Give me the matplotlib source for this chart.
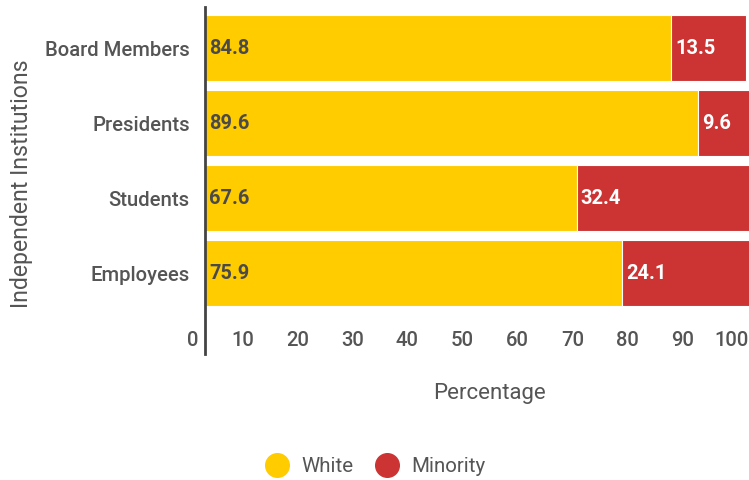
import matplotlib
matplotlib.use("Agg")
import matplotlib.pyplot as plt
from matplotlib.lines import Line2D
import matplotlib.transforms as mtransforms

categories = ["Board Members", "Presidents", "Students", "Employees"]
white = [84.8, 89.6, 67.6, 75.9]
minority = [13.5, 9.6, 32.4, 24.1]
xticks = [0, 10, 20, 30, 40, 50, 60, 70, 80, 90, 100]
series_names = ["White", "Minority"]

YELLOW = "#FFCC00"
RED = "#CC3333"
TEXT = "#555555"
DARK = "#4a4a4a"

plt.rcParams['font.family'] = ['Roboto', 'DejaVu Sans']

W, H = 749, 480
fig = plt.figure(figsize=(W / 100, H / 100), dpi=100)
ax = fig.add_axes([205 / W, (H - 354) / H, 550 / W, (354 - 7) / H])

y = list(range(len(categories)))
ax.barh(y, white, height=0.89, color=YELLOW, edgecolor="white", linewidth=0.8)
ax.barh(y, minority, left=white, height=0.89, color=RED, edgecolor="white", linewidth=0.8)

ax.set_xlim(0, 100)
ax.set_ylim(4.08, -0.547)

for sp in ["top", "right", "bottom"]:
    ax.spines[sp].set_visible(False)
ax.spines["left"].set_color("#444444")
ax.spines["left"].set_linewidth(2)

ax.set_yticks(y)
ax.set_yticklabels(categories, fontsize=14.6, color=TEXT, fontweight="medium")
ax.tick_params(axis="y", length=0, pad=11)
ax.set_xticks([])

# value labels
off = mtransforms.offset_copy(ax.transData, fig=fig, x=4, y=0, units="dots")
for i in y:
    ax.text(0, i, f"{white[i]}", transform=off, ha="left", va="center",
            fontsize=14.4, fontweight="bold", color=DARK)
    ax.text(white[i], i, f"{minority[i]}", transform=off, ha="left", va="center",
            fontsize=14.4, fontweight="bold", color="white")

# x tick labels (right aligned, slightly left of tick)
blend = mtransforms.blended_transform_factory(ax.transData, ax.transAxes)
toff = mtransforms.offset_copy(blend, fig=fig, x=-6, y=0, units="dots")
for t in xticks:
    ax.text(t, (340 - 354) / (7 - 354), str(t), transform=toff, ha="right", va="center",
            fontsize=14.6, fontweight="medium", color=TEXT, clip_on=False)

fig.text(490 / W, 1 - 393 / H, "Percentage", ha="center", va="center",
         fontsize=16, color=TEXT)
fig.text(22 / W, 1 - 184 / H, "Independent Institutions", ha="center", va="center",
         rotation=90, fontsize=16.6, color=TEXT)

handles = [Line2D([], [], marker="o", linestyle="none", markersize=17,
                  markerfacecolor=c, markeredgecolor=c) for c in (YELLOW, RED)]
leg = fig.legend(handles, series_names, loc="center", bbox_to_anchor=(375 / W, 1 - 467 / H),
                 ncol=2, frameon=False, fontsize=14.8, handletextpad=0.6, columnspacing=1.0,
                 handlelength=1.2)
for t in leg.get_texts():
    t.set_color(TEXT)

fig.savefig("out.png", dpi=100)
